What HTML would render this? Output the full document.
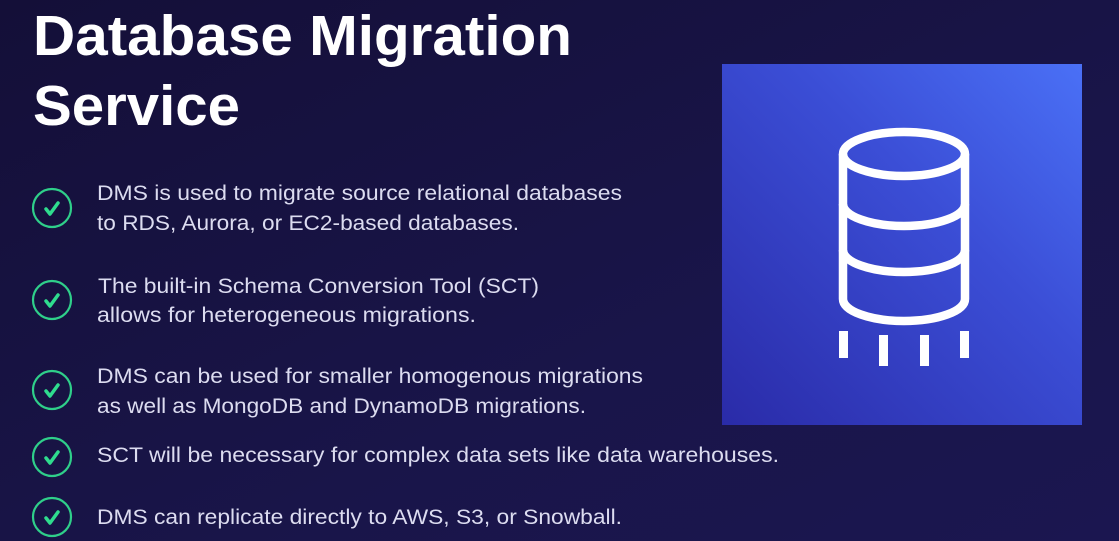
<!DOCTYPE html>
<html><head><meta charset="utf-8"><style>
html,body{margin:0;padding:0;width:1119px;height:541px;overflow:hidden;background:#17133f}
</style></head><body>
<svg width="1119" height="541" xmlns="http://www.w3.org/2000/svg">
<defs>
<linearGradient id="bg" x1="0" y1="0" x2="1" y2="1">
<stop offset="0" stop-color="#140f38"/><stop offset="0.6" stop-color="#191549"/><stop offset="1" stop-color="#1b1650"/>
</linearGradient>
<linearGradient id="box" x1="0" y1="1" x2="1" y2="0">
<stop offset="0" stop-color="#2a2ba8"/><stop offset="0.6" stop-color="#3b4ed6"/><stop offset="1" stop-color="#4a70f6"/>
</linearGradient>
</defs>
<rect width="1119" height="541" fill="url(#bg)"/>
<g font-family="Liberation Sans, sans-serif" fill="#ffffff" font-weight="bold">
<text x="33" y="55" font-size="57" textLength="539" lengthAdjust="spacingAndGlyphs">Database Migration</text>
<text x="33" y="125" font-size="57" textLength="207" lengthAdjust="spacingAndGlyphs">Service</text>
</g>
<g fill="none" stroke="#2fcf8a" stroke-width="2.2">
<circle cx="52" cy="208" r="19"/><circle cx="52" cy="300" r="19"/><circle cx="52" cy="390" r="19"/><circle cx="52" cy="457" r="19"/><circle cx="52" cy="517" r="19"/>
</g>
<g fill="none" stroke="#2fdc8e" stroke-width="3.5" stroke-linecap="round" stroke-linejoin="round">
<path d="M46 209 l4 5 l8 -11"/><path d="M46 301 l4 5 l8 -11"/><path d="M46 391 l4 5 l8 -11"/><path d="M46 458 l4 5 l8 -11"/><path d="M46 518 l4 5 l8 -11"/>
</g>
<g font-family="Liberation Sans, sans-serif" fill="#dcdcf0" font-size="21">
<text x="97" y="200" textLength="525" lengthAdjust="spacingAndGlyphs">DMS is used to migrate source relational databases</text>
<text x="97" y="230" textLength="422" lengthAdjust="spacingAndGlyphs">to RDS, Aurora, or EC2-based databases.</text>
<text x="98" y="293" textLength="441" lengthAdjust="spacingAndGlyphs">The built-in Schema Conversion Tool (SCT)</text>
<text x="97" y="322" textLength="379" lengthAdjust="spacingAndGlyphs">allows for heterogeneous migrations.</text>
<text x="97" y="383" textLength="546" lengthAdjust="spacingAndGlyphs">DMS can be used for smaller homogenous migrations</text>
<text x="97" y="413" textLength="489" lengthAdjust="spacingAndGlyphs">as well as MongoDB and DynamoDB migrations.</text>
<text x="97" y="462" textLength="682" lengthAdjust="spacingAndGlyphs">SCT will be necessary for complex data sets like data warehouses.</text>
<text x="97" y="524" textLength="525" lengthAdjust="spacingAndGlyphs">DMS can replicate directly to AWS, S3, or Snowball.</text>
</g>
<rect x="722" y="64" width="360" height="361" fill="url(#box)"/>
<g fill="none" stroke="#ffffff" stroke-width="8.5">
<ellipse cx="904" cy="154" rx="61" ry="22"/>
<path d="M843 154 V299 A61 22 0 0 0 965 299 V154"/>
<path d="M843 204 A61 22 0 0 0 965 204"/>
<path d="M843 250 A61 22 0 0 0 965 250"/>
</g>
<g fill="#ffffff">
<rect x="839" y="331" width="9" height="27"/>
<rect x="879" y="335" width="9" height="31"/>
<rect x="920" y="335" width="9" height="31"/>
<rect x="960" y="331" width="9" height="27"/>
</g>
</svg>
</body></html>
